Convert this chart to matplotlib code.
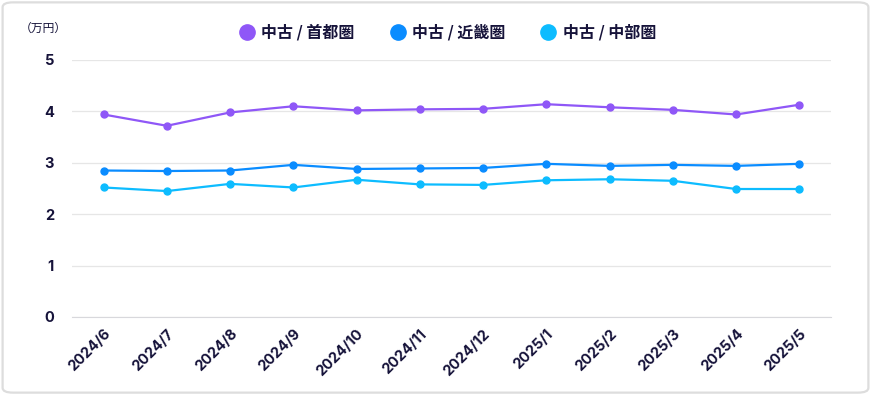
import matplotlib.pyplot as plt
from matplotlib.patches import FancyBboxPatch

months = ["2024/6", "2024/7", "2024/8", "2024/9", "2024/10", "2024/11",
          "2024/12", "2025/1", "2025/2", "2025/3", "2025/4", "2025/5"]
shutoken = [3.94, 3.72, 3.98, 4.10, 4.02, 4.04, 4.05, 4.14, 4.08, 4.03, 3.94, 4.13]
kinki = [2.85, 2.84, 2.85, 2.96, 2.88, 2.89, 2.90, 2.98, 2.94, 2.96, 2.94, 2.98]
chubu = [2.52, 2.45, 2.59, 2.52, 2.67, 2.58, 2.57, 2.66, 2.68, 2.65, 2.49, 2.49]
names = ["中古 / 首都圏", "中古 / 近畿圏", "中古 / 中部圏"]
colors = ["#8f57f7", "#0a8cff", "#0dbcff"]
ink = "#16133a"

fig = plt.figure(figsize=(8.71, 3.95), dpi=100)
frame = FancyBboxPatch((0.003, 0.006), 0.994, 0.988,
                       boxstyle="round,pad=0,rounding_size=0.012",
                       transform=fig.transFigure, facecolor="white",
                       edgecolor="#dddddd", linewidth=1.6, zorder=-10)
fig.patches.append(frame)

ax = fig.add_axes([72 / 871, 1 - 317 / 395, 759 / 871, 257 / 395])
ax.set_facecolor("none")
x = range(len(months))
for vals, name, c in zip([shutoken, kinki, chubu], names, colors):
    ax.plot(x, vals, color=c, lw=1.6, marker="o", ms=5, label=name,
            solid_capstyle="round")

ax.set_xlim(-0.5, len(months) - 0.5)
ax.set_ylim(0, 5)
ax.set_yticks(range(6))
ax.set_xticks(list(x))
ax.set_xticklabels(months, rotation=45, ha="right", rotation_mode="anchor")
ax.grid(axis="y", color="#e6e6e6", lw=0.9)
ax.set_axisbelow(True)
for s in ["top", "right", "left"]:
    ax.spines[s].set_visible(False)
ax.spines["bottom"].set_color("#d8d8dc")
ax.tick_params(length=0, labelsize=10.5, colors=ink)
ax.tick_params(axis="y", pad=13)
ax.tick_params(axis="x", pad=7)
for lab in ax.get_xticklabels() + ax.get_yticklabels():
    lab.set_family(["Inter", "DejaVu Sans"])
    lab.set_fontweight("bold")

fig.text(20 / 871, 1 - 28 / 395, "（万円）", fontsize=8.5, color=ink,
         family=["Noto Sans CJK JP", "DejaVu Sans"], va="center")

leg = fig.legend(loc="center", bbox_to_anchor=(449 / 871, 1 - 32 / 395), ncol=3,
                 frameon=False, handlelength=0.6, handletextpad=0.6,
                 columnspacing=2.4,
                 prop={"family": ["Noto Sans CJK JP", "DejaVu Sans"],
                       "weight": "bold", "size": 11.5})
for h in leg.legend_handles:
    h.set_linestyle("none")
    h.set_markersize(11)
for t in leg.get_texts():
    t.set_color(ink)

fig.savefig("out.png", dpi=100)
